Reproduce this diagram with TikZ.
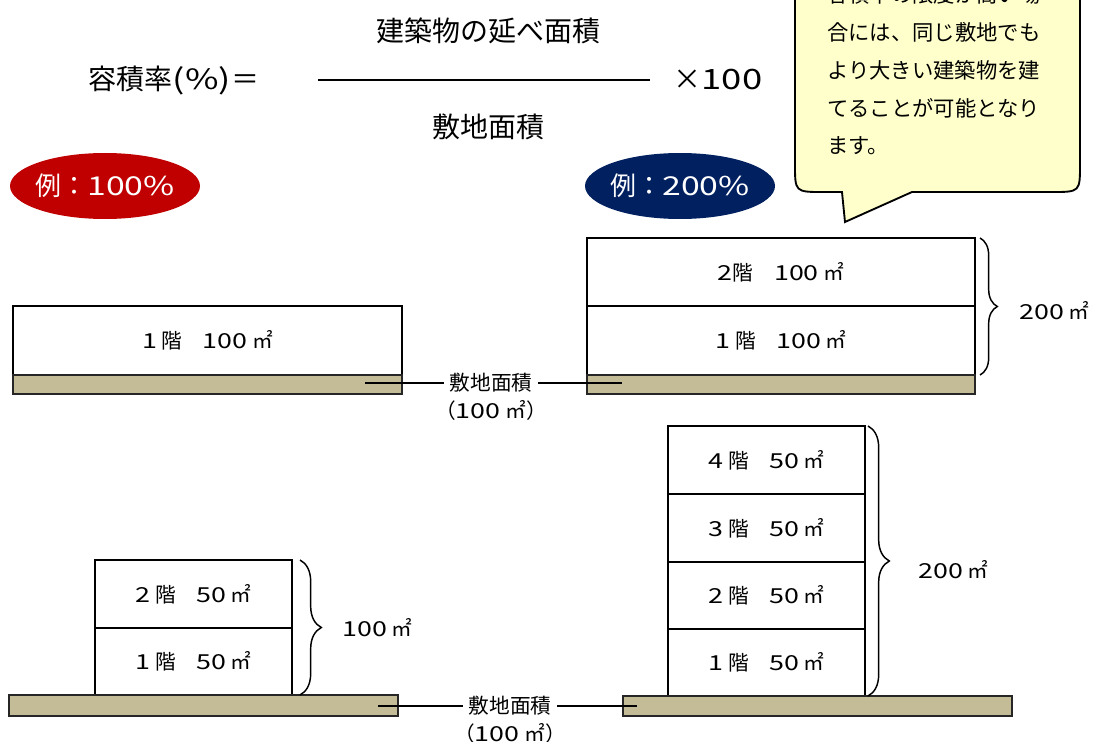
\documentclass[tikz,border=0pt]{standalone}
\usepackage{fontspec}
\setmainfont{Noto Sans CJK JP}
\newfontfamily\widefont{Noto Sans CJK JP}[FakeStretch=1.3]
\newcommand\nm[1]{{\widefont #1}}
\usetikzlibrary{shapes.geometric,decorations.pathreplacing}
\definecolor{groundtan}{RGB}{196,188,150}
\definecolor{calloutfill}{RGB}{255,255,204}
\definecolor{exred}{RGB}{192,0,0}
\definecolor{exnavy}{RGB}{0,32,96}
\newcommand\flr[6]{%
  \draw[floorbox] (#1,#2) rectangle (#3,#4);
  \node[flrtext] (#5) at ({(#1+#3)/2},{(#2+#4)/2}) {#6};}
\begin{document}
\begin{tikzpicture}[x=0.75pt,y=-0.75pt,
  floorbox/.style={draw=black, line width=1.4pt, fill=white},
  groundbox/.style={draw=black!85, line width=1.4pt, fill=groundtan},
  flrtext/.style={font=\fontsize{15.5}{18}\selectfont, inner sep=0pt},
  bigtext/.style={font=\fontsize{21}{24}\selectfont, inner sep=0pt},
  lbltext/.style={font=\fontsize{15.5}{18}\selectfont, inner xsep=4pt, inner ysep=1pt},
  exoval/.style={ellipse, draw=none, text=white, minimum width=142.5pt, minimum height=49.5pt, inner sep=0pt, font=\fontsize{19.5}{24}\selectfont},
  bracestyle/.style={draw=black, line width=1.1pt, decorate},
  calloutstyle/.style={draw=black, line width=1.4pt, fill=calloutfill},
  callouttext/.style={font=\fontsize{16}{19}\selectfont, inner sep=0pt, anchor=west},
  connector/.style={draw=black, line width=1.1pt}]
\useasboundingbox (0,0) rectangle (1097,742);
\clip (0,0) rectangle (1097,742);

% formula
\node[bigtext] (lhs) at (174,80) {容積率\nm{(\%)}＝};
\node[bigtext] (num) at (488,31) {建築物の延べ面積};
\node[bigtext] (den) at (488,127) {敷地面積};
\coordinate (barL) at (318,80);
\coordinate (barR) at (650,80);
\draw[connector] (barL) -- (barR);
\node[bigtext] (times) at (718,80) {×\nm{100}};

% example ovals
\node[exoval, fill=exred] (ex1) at (105,186) {\makebox[0pt]{例：\nm{100\%}}};
\node[exoval, fill=exnavy] (ex2) at (680,186) {\makebox[0pt]{例：\nm{200\%}}};

% callout
\draw[calloutstyle] (842,192) -- (845,222) -- (912,192) -- (1052,192)
  .. controls (1080,192) .. (1080,164) -- (1080,-60) -- (795,-60) -- (795,164)
  .. controls (795,192) .. (823,192) -- cycle;
\node[callouttext] (c1) at (827,-6) {容積率の限度が高い場};
\node[callouttext] (c2) at (827,32) {合には、同じ敷地でも};
\node[callouttext] (c3) at (827,70) {より大きい建築物を建};
\node[callouttext] (c4) at (827,108) {てることが可能となり};
\node[callouttext] (c5) at (827,146) {ます。};

% top-left building (100%)
\flr{13}{306}{402}{375}{a1}{\nm{1} 階　\nm{100} ㎡}
\draw[groundbox] (13,375) rectangle (402,394);

% top-right building (200%)
\flr{587}{238}{975}{306}{b2}{\nm{2}階　\nm{100} ㎡}
\flr{587}{306}{975}{375}{b1}{\nm{1} 階　\nm{100} ㎡}
\draw[groundbox] (587,375) rectangle (975,394);
\draw[bracestyle, decoration={brace, amplitude=13pt}] (980,238) -- (980,375);
\node[flrtext, anchor=west] (btot) at (1019,311) {\nm{200} ㎡};

% top site label
\node[lbltext] (site1) at (491,383) {敷地面積};
\node[lbltext] (site1v) at (491,410) {（\nm{100} ㎡）};
\coordinate (s1L) at (365,383);
\coordinate (s1R) at (622,383);
\draw[connector] (s1L) -- (site1.west);
\draw[connector] (site1.east) -- (s1R);

% bottom-left building
\flr{95}{560}{292}{628}{c2f}{\nm{2} 階　\nm{50} ㎡}
\flr{95}{628}{292}{695}{c1f}{\nm{1} 階　\nm{50} ㎡}
\draw[groundbox] (9,695) rectangle (398,716);
\draw[bracestyle, decoration={brace, amplitude=16pt}] (300,560) -- (300,695);
\node[flrtext, anchor=west] (ctot) at (342,628) {\nm{100} ㎡};

% bottom-right building
\flr{668}{426}{865}{494}{d4}{\nm{4} 階　\nm{50} ㎡}
\flr{668}{494}{865}{562}{d3}{\nm{3} 階　\nm{50} ㎡}
\flr{668}{562}{865}{629}{d2}{\nm{2} 階　\nm{50} ㎡}
\flr{668}{629}{865}{696}{d1}{\nm{1} 階　\nm{50} ㎡}
\draw[groundbox] (623,696) rectangle (1012,716);
\draw[bracestyle, decoration={brace, amplitude=16pt}] (868,426) -- (868,696);
\node[flrtext, anchor=west] (dtot) at (918,570) {\nm{200} ㎡};

% bottom site label
\node[lbltext] (site2) at (510,706) {敷地面積};
\node[lbltext] (site2v) at (510,733) {（\nm{100} ㎡）};
\coordinate (s2L) at (378,706);
\coordinate (s2R) at (637,706);
\draw[connector] (s2L) -- (site2.west);
\draw[connector] (site2.east) -- (s2R);
\end{tikzpicture}
\end{document}
